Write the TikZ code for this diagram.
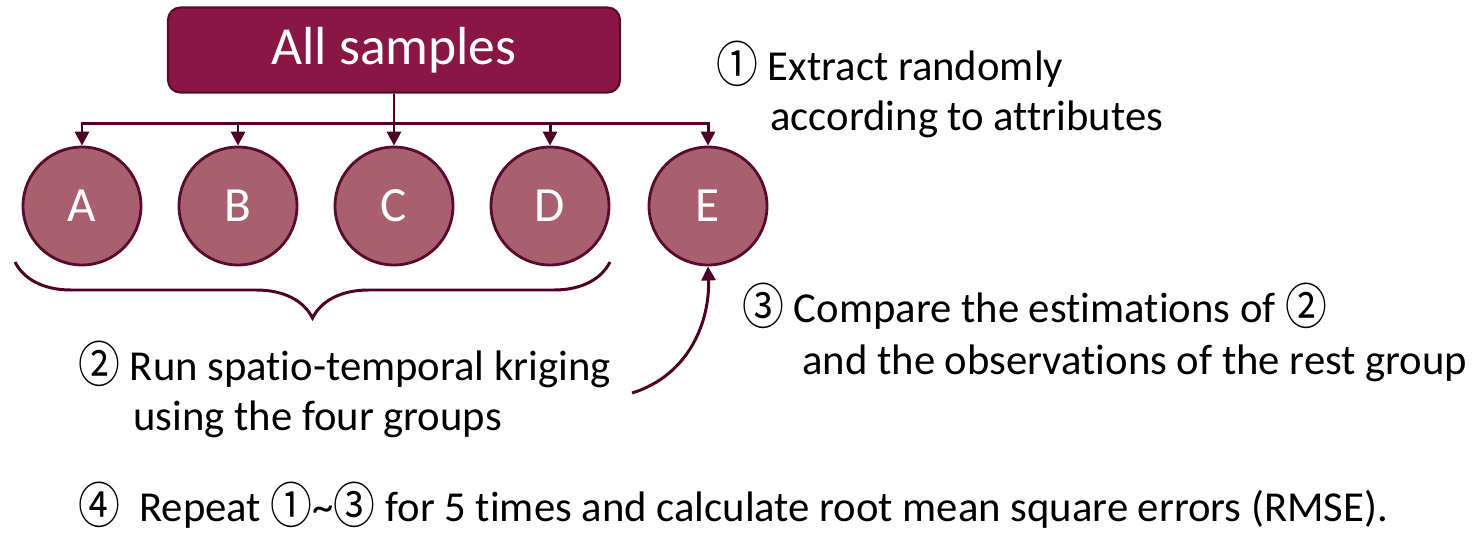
\documentclass[tikz,border=0pt]{standalone}
\usepackage{fontspec}
\usepackage{graphicx}
\setmainfont{Carlito}[Ligatures=NoCommon]
\newfontfamily\circfont{Noto Sans CJK JP}
\newcommand{\cnum}[1]{{\circfont\raisebox{-0.06em}{\scalebox{0.98}[1.15]{#1}}}}
\usepackage{xcolor}
\usetikzlibrary{arrows.meta}
\usetikzlibrary{decorations.pathreplacing}

\definecolor{wine}{HTML}{8A1643}
\definecolor{winedark}{HTML}{5A0A2C}
\definecolor{rose}{HTML}{A8606F}
\definecolor{linecol}{HTML}{4F0025}

\begin{document}
\begin{tikzpicture}[x=0.02cm,y=-0.02cm,
    flow/.style={draw=linecol,line width=1.7pt,-{Triangle[width=8pt,length=8pt]}},
    group/.style={circle,draw=winedark,line width=1.6pt,fill=rose,text=white,
        minimum size=2.36cm,inner sep=0pt,font=\fontsize{28}{30}\selectfont},
    txt/.style={anchor=base west,inner sep=0pt,font=\fontsize{24.3}{29}\selectfont}]
    \useasboundingbox (0,0) rectangle (1480,532);
    \node[rectangle,rounded corners=7pt,draw=winedark,line width=1.2pt,fill=wine,
        text=white,minimum width=9.04cm,minimum height=1.7cm,
        font=\fontsize{30.5}{34}\selectfont] (all) at (394,50) {All samples};
    \node[group] (A) at (82,206) {A};
    \node[group] (B) at (238,206) {B};
    \node[group] (C) at (394,206) {C};
    \node[group] (D) at (550,206) {D};
    \node[group] (E) at (708,206) {E};
    \foreach \n in {A,B,C,D,E}
        \draw[flow] (all.south) -- ++(0,30) -| (\n.north);
    % brace under the four groups
    \coordinate (bl) at (15,262);
    \coordinate (br) at (610,262);
    \draw[linecol,line width=1.7pt,decorate,
        decoration={brace,mirror,amplitude=1.12cm}] (bl) -- (br);
    % arrow to the rest group
    \coordinate (cs) at (632,393);
    \draw[flow] (cs) .. controls (690,375) and (710,320) .. (E.south);
    % texts
    \node[txt] (t1a) at (716,80) {\cnum{①} Extract randomly};
    \node[txt] (t1b) at (770,130) {according to attributes};
    \node[txt] (t3a) at (742,322) {\cnum{③} Compare the estimations of \cnum{②}};
    \node[txt] (t3b) at (802,374) {and the observations of the rest group};
    \node[txt] (t2a) at (78,380) {\cnum{②} Run spatio-temporal kriging};
    \node[txt] (t2b) at (133,430) {using the four groups};
    \node[txt] (t4) at (78,521) {\cnum{④}\ \ Repeat \cnum{①}\textasciitilde\cnum{③} for 5 times and calculate root mean square errors (RMSE).};
\end{tikzpicture}
\end{document}
